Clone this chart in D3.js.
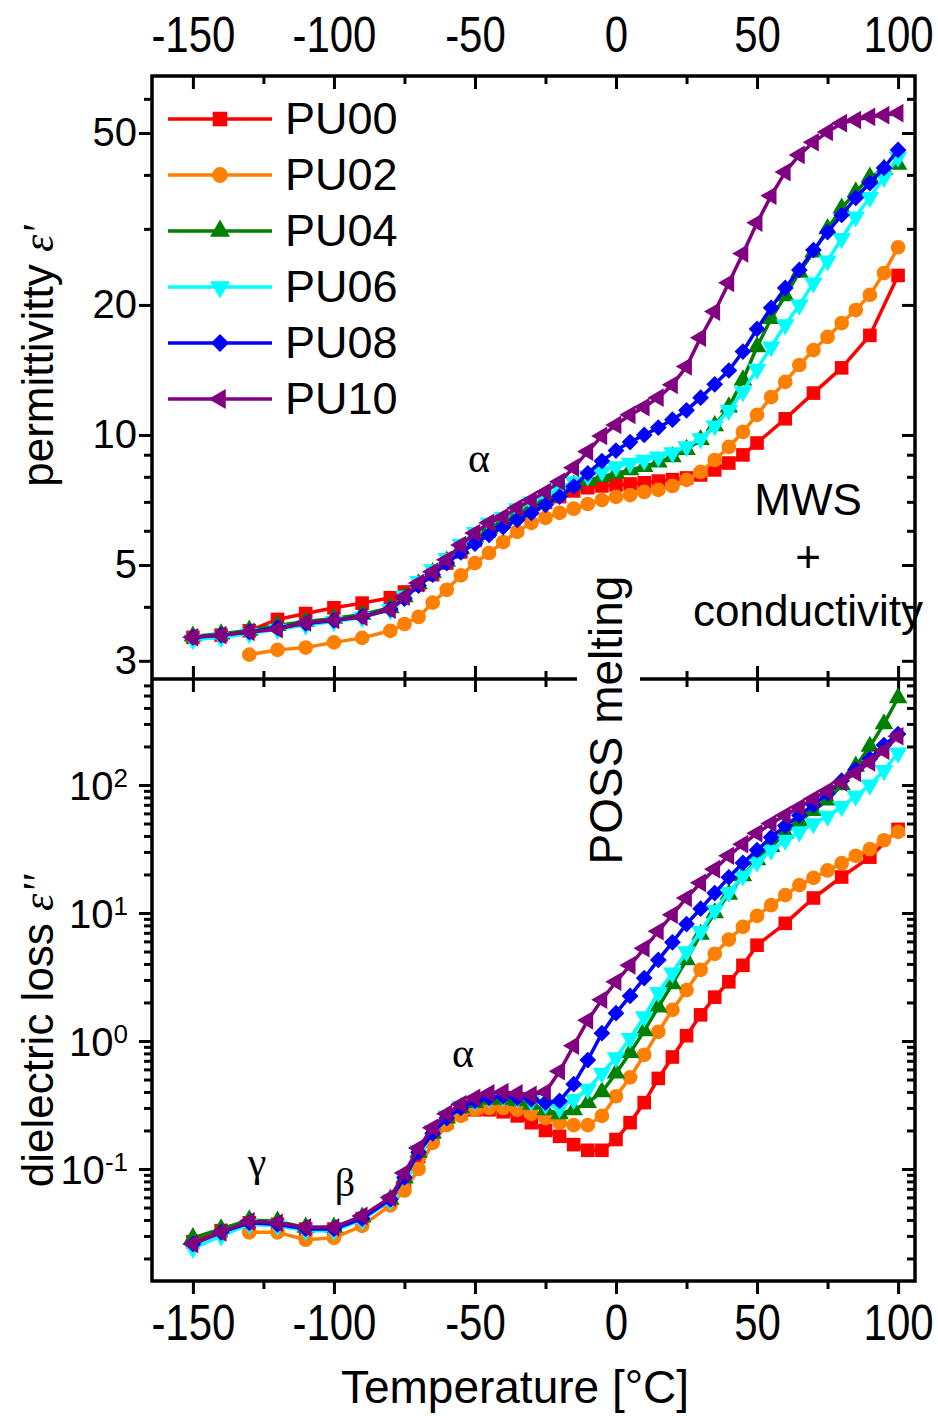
<!DOCTYPE html>
<html>
<head>
<meta charset="utf-8">
<script src="https://cdn.jsdelivr.net/npm/d3@7"></script>
<style>
  body { margin: 0; background: #ffffff; }
  svg text { font-family: "Liberation Sans", Arial, sans-serif; fill: #000; }
</style>
</head>
<body>
<svg id="chart" width="938" height="1416"></svg>
<script>
// ---- temperature grids (°C) ----
const tempStd = [-150,-140,-130,-120,-110,-100,-90,-80,-75,-70,-65,-60,-55,-50,-45,-40,-35,-30,-25,-20,-15,-10,-5,0,5,10,15,20,25,30,35,40,45,50,55,60,65,70,75,80,85,90,95,100];
const tempPU00 = [-150,-140,-130,-120,-110,-100,-90,-80,-75,-70,-65,-60,-55,-50,-45,-40,-35,-30,-25,-20,-15,-10,-5,0,5,10,15,20,25,30,35,40,45,50,60,70,80,90,100];
const tempPU02 = [-130,-120,-110,-100,-90,-80,-75,-70,-65,-60,-55,-50,-45,-40,-35,-30,-25,-20,-15,-10,-5,0,5,10,15,20,25,30,35,40,45,50,55,60,65,70,75,80,85,90,95,100];

// ---- permittivity ε' ----
const permPU00 = [3.40,3.44,3.52,3.74,3.86,3.98,4.08,4.20,4.33,4.50,4.75,5.05,5.36,5.70,6.00,6.27,6.53,6.76,6.98,7.20,7.42,7.55,7.62,7.66,7.70,7.75,7.82,7.88,7.95,8.08,8.30,8.61,8.99,9.58,10.9,12.5,14.3,17.0,23.4];
const permPU02 = [3.10,3.18,3.22,3.31,3.39,3.52,3.65,3.79,4.09,4.38,4.73,5.05,5.33,5.65,5.97,6.26,6.43,6.60,6.75,6.92,7.07,7.19,7.26,7.38,7.46,7.62,7.87,8.21,8.75,9.38,10.16,11.13,12.24,13.27,14.52,15.72,16.86,18.16,19.46,21.10,23.7,27.2];
const permPU04 = [3.42,3.46,3.53,3.62,3.70,3.76,3.84,3.98,4.22,4.52,4.80,5.10,5.45,5.80,6.08,6.33,6.58,6.85,7.10,7.40,7.65,7.85,8.00,8.15,8.30,8.45,8.65,8.90,9.25,9.75,10.5,11.6,13.4,16.0,18.6,21.0,23.8,26.5,30.0,33.5,36.5,39.5,41.2,42.3];
const permPU06 = [3.36,3.40,3.47,3.55,3.63,3.70,3.78,3.94,4.24,4.58,4.88,5.18,5.58,5.95,6.25,6.45,6.75,7.00,7.25,7.50,7.80,8.05,8.25,8.45,8.60,8.75,8.90,9.10,9.40,9.80,10.5,11.4,12.6,14.2,16.0,18.0,20.0,22.5,25.3,28.5,32.0,35.5,39.5,44.0];
const permPU08 = [3.40,3.44,3.50,3.58,3.66,3.72,3.80,3.95,4.18,4.48,4.75,5.05,5.35,5.60,5.87,6.12,6.36,6.60,6.89,7.20,7.60,8.15,8.70,9.20,9.63,10.0,10.4,10.85,11.4,12.2,13.1,14.1,15.6,17.6,19.7,21.9,24.1,26.8,29.5,32.3,35.4,38.3,41.5,45.7];
const permPU10 = [3.40,3.44,3.50,3.55,3.68,3.73,3.79,3.94,4.22,4.54,4.82,5.14,5.56,5.93,6.26,6.46,6.78,7.07,7.38,7.79,8.40,9.15,9.95,10.55,11.13,11.6,12.2,13.06,14.4,16.8,19.3,22.5,26.3,31.0,35.8,40.6,44.5,47.6,50.3,52.7,53.6,54.5,55.0,55.6];

// ---- dielectric loss ε'' ----
const lossPU00 = [0.027,0.033,0.038,0.037,0.034,0.034,0.041,0.056,0.080,0.125,0.18,0.23,0.27,0.29,0.29,0.28,0.26,0.23,0.20,0.18,0.155,0.14,0.14,0.17,0.23,0.33,0.51,0.75,1.1,1.6,2.2,2.9,3.9,5.6,8.3,13.1,19.1,27.3,45];
const lossPU02 = [0.032,0.032,0.028,0.029,0.036,0.052,0.068,0.10,0.16,0.22,0.26,0.29,0.30,0.30,0.29,0.27,0.25,0.23,0.22,0.22,0.26,0.37,0.52,0.78,1.18,1.75,2.5,3.6,4.8,6.2,7.8,9.5,11.5,13.8,16.5,18.8,21.5,24.5,28,31.5,37,43];
const lossPU04 = [0.029,0.034,0.040,0.039,0.035,0.035,0.042,0.058,0.085,0.135,0.19,0.25,0.30,0.33,0.35,0.35,0.34,0.32,0.29,0.27,0.29,0.33,0.40,0.56,0.81,1.2,1.84,2.8,4.3,6.8,10,14,19.5,26,33,42,52,63,76,100,140,200,300,480];
const lossPU06 = [0.024,0.030,0.037,0.036,0.033,0.033,0.040,0.057,0.088,0.14,0.20,0.26,0.31,0.34,0.36,0.37,0.36,0.34,0.32,0.30,0.35,0.42,0.56,0.74,1.05,1.55,2.4,3.4,5.0,7.2,10.5,14.5,19.5,25,31,37,43,50,57,68,82,100,130,178];
const lossPU08 = [0.026,0.032,0.038,0.037,0.034,0.034,0.041,0.058,0.086,0.135,0.19,0.25,0.30,0.34,0.36,0.37,0.36,0.35,0.33,0.34,0.46,0.71,1.15,1.65,2.25,3.1,4.3,5.9,8.2,10.8,14.3,19,24.6,31,39,48,58,70,86,108,132,160,205,250];
const lossPU10 = [0.026,0.032,0.039,0.038,0.035,0.035,0.043,0.060,0.093,0.146,0.21,0.27,0.32,0.36,0.39,0.40,0.39,0.38,0.40,0.58,0.92,1.45,2.1,2.9,3.9,5.3,7.2,9.7,13.1,17.2,22,28,34.5,42,50,58,67,78,90,105,124,150,185,240];

// ---- series meta ----
const seriesNames  = ["PU00","PU02","PU04","PU06","PU08","PU10"];
const seriesColors = ["#ff0000","#ff8000","#008000","#00ffff","#0000ff","#800080"];
const seriesShapes = ["square","circle","triangleUp","triangleDown","diamond","triangleLeft"];
const seriesTemps  = [tempPU00,tempPU02,tempStd,tempStd,tempStd,tempStd];
const seriesPerm   = [permPU00,permPU02,permPU04,permPU06,permPU08,permPU10];
const seriesLoss   = [lossPU00,lossPU02,lossPU04,lossPU06,lossPU08,lossPU10];

// ---- axis ticks ----
const tempTicks      = [-150,-100,-50,0,50,100];
const tempMinorTicks = [-125,-75,-25,25,75];
const permTickLabels = [3,5,10,20,50];
const permMinorTicks = [4,6,7,8,9,30,40,60];
const lossTickExponents = [-1,0,1,2];

// ---- layout ----
const L = 152, R = 915, T = 76, M = 679, B = 1281;
const svg = d3.select("#chart");

const x = d3.scaleLinear().domain([-164.5, 106]).range([L, R]);
const yPerm = d3.scaleLog().domain([Math.pow(10,0.435), Math.pow(10,1.831)]).range([M, T]);
const yLoss = d3.scaleLog().domain([Math.pow(10,-1.875), Math.pow(10,2.828)]).range([B, M]);

const lossMajor = lossTickExponents.map(e => Math.pow(10, e));
const lossMinor = [];
for (let e = -2; e <= 2; e++) for (let k = 2; k <= 9; k++) {
  const v = k * Math.pow(10, e);
  if (v > yLoss.domain()[0] && v < yLoss.domain()[1]) lossMinor.push(v);
}

const FS_Y = 40;          // value-axis label size
const FS_X = 50;          // temperature label size (narrowed)
const X_NARROW = 0.84;
const MAJ = 13, MIN = 8;
const plain = d => String(d);

function styleAxis(g) {
  g.select(".domain").remove();
  g.selectAll(".tick line").attr("stroke", "#000").attr("stroke-width", 3);
  g.selectAll(".tick text").attr("font-size", FS_Y).attr("fill", "#000")
    .style("font-family", '"Liberation Sans", Arial, sans-serif');
}
function narrowLabels(g) {
  g.selectAll(".tick text").attr("font-size", FS_X).attr("transform", `scale(${X_NARROW},1)`);
}

const axes = svg.append("g");

// bottom temperature axis (outward ticks, labelled)
axes.append("g").attr("transform", `translate(0,${B})`)
  .call(d3.axisBottom(x).tickValues(tempTicks).tickSize(MAJ).tickPadding(11).tickFormat(plain))
  .call(styleAxis).call(narrowLabels);
axes.append("g").attr("transform", `translate(0,${B})`)
  .call(d3.axisBottom(x).tickValues(tempMinorTicks).tickSize(MIN).tickFormat(""))
  .call(styleAxis);

// top temperature axis (inward ticks, labels above)
axes.append("g").attr("transform", `translate(0,${T})`)
  .call(d3.axisTop(x).tickValues(tempTicks).tickSizeInner(-MAJ).tickSizeOuter(0).tickPadding(24).tickFormat(plain))
  .call(styleAxis).call(narrowLabels);
axes.append("g").attr("transform", `translate(0,${T})`)
  .call(d3.axisTop(x).tickValues(tempMinorTicks).tickSizeInner(-MIN).tickSizeOuter(0).tickFormat(""))
  .call(styleAxis);

// shared boundary between panels: ticks pointing into both panels
[[tempTicks, MAJ], [tempMinorTicks, MIN]].forEach(([vals, len]) => {
  axes.append("g").attr("transform", `translate(0,${M})`)
    .call(d3.axisTop(x).tickValues(vals).tickSize(len).tickFormat(""))
    .call(styleAxis);
  axes.append("g").attr("transform", `translate(0,${M})`)
    .call(d3.axisBottom(x).tickValues(vals).tickSize(len).tickFormat(""))
    .call(styleAxis);
});

// permittivity axes
axes.append("g").attr("transform", `translate(${L},0)`)
  .call(d3.axisLeft(yPerm).tickValues(permTickLabels).tickSize(MAJ).tickPadding(2).tickFormat(plain))
  .call(styleAxis);
axes.append("g").attr("transform", `translate(${L},0)`)
  .call(d3.axisLeft(yPerm).tickValues(permMinorTicks).tickSize(MIN).tickFormat(""))
  .call(styleAxis);
axes.append("g").attr("transform", `translate(${R},0)`)
  .call(d3.axisLeft(yPerm).tickValues(permTickLabels).tickSize(MAJ).tickFormat(""))
  .call(styleAxis);
axes.append("g").attr("transform", `translate(${R},0)`)
  .call(d3.axisLeft(yPerm).tickValues(permMinorTicks).tickSize(MIN).tickFormat(""))
  .call(styleAxis);

// loss axes
const lossLeft = axes.append("g").attr("transform", `translate(${L},0)`)
  .call(d3.axisLeft(yLoss).tickValues(lossMajor).tickSize(MAJ).tickPadding(11).tickFormat(d => String(Math.round(Math.log10(d)))))
  .call(styleAxis);
lossLeft.selectAll(".tick text").each(function() {
  const t = d3.select(this);
  const ex = t.text();
  t.text(null).attr("dy", "0.36em");
  t.append("tspan").text("10");
  t.append("tspan").attr("dy", "-0.5em").attr("font-size", 26).text(ex);
});
axes.append("g").attr("transform", `translate(${L},0)`)
  .call(d3.axisLeft(yLoss).tickValues(lossMinor).tickSize(MIN).tickFormat(""))
  .call(styleAxis);
axes.append("g").attr("transform", `translate(${R},0)`)
  .call(d3.axisLeft(yLoss).tickValues(lossMajor).tickSize(MAJ).tickFormat(""))
  .call(styleAxis);
axes.append("g").attr("transform", `translate(${R},0)`)
  .call(d3.axisLeft(yLoss).tickValues(lossMinor).tickSize(MIN).tickFormat(""))
  .call(styleAxis);

// frame and panel divider
svg.append("rect").attr("x", L).attr("y", T).attr("width", R - L).attr("height", B - T)
  .attr("fill", "none").attr("stroke", "#000").attr("stroke-width", 3.5);
svg.append("line").attr("x1", L).attr("x2", R).attr("y1", M).attr("y2", M)
  .attr("stroke", "#000").attr("stroke-width", 3.5);

// ---- marker shapes ----
function markerPath(shape, s) {
  switch (shape) {
    case "square":       return d3.symbol(d3.symbolSquare, 185 * s)();
    case "circle":       return d3.symbol(d3.symbolCircle, 170 * s)();
    case "triangleUp":
    case "triangleDown":
    case "triangleLeft": return d3.symbol(d3.symbolTriangle, 150 * s)();
    case "diamond":      return d3.symbol(d3.symbolSquare, 140 * s)();
  }
}
const shapeRot = { square: 0, circle: 0, triangleUp: 0, triangleDown: 180, triangleLeft: -90, diamond: 45 };

// ---- data series ----
function drawPanel(yScale, valueSets, clipId, y0, y1) {
  svg.append("clipPath").attr("id", clipId).append("rect")
    .attr("x", L).attr("y", y0).attr("width", R - L).attr("height", y1 - y0);
  const g = svg.append("g").attr("clip-path", `url(#${clipId})`);
  seriesNames.forEach((name, i) => {
    const pts = seriesTemps[i].map((t, j) => [t, valueSets[i][j]]);
    const line = d3.line().x(d => x(d[0])).y(d => yScale(d[1]));
    g.append("path").datum(pts).attr("d", line)
      .attr("fill", "none").attr("stroke", seriesColors[i]).attr("stroke-width", 3.5)
      .attr("stroke-linejoin", "round");
    g.selectAll(null).data(pts).enter().append("path")
      .attr("d", markerPath(seriesShapes[i], 1))
      .attr("transform", d => `translate(${x(d[0])},${yScale(d[1])}) rotate(${shapeRot[seriesShapes[i]]})`)
      .attr("fill", seriesColors[i]);
  });
}
drawPanel(yPerm, seriesPerm, "clipPerm", T, M);
drawPanel(yLoss, seriesLoss, "clipLoss", M, B);

// ---- legend ----
const legend = svg.append("g");
seriesNames.forEach((name, i) => {
  const ly = 119 + i * 56;
  legend.append("line").attr("x1", 168).attr("x2", 272).attr("y1", ly).attr("y2", ly)
    .attr("stroke", seriesColors[i]).attr("stroke-width", 3.5);
  legend.append("path").attr("d", markerPath(seriesShapes[i], 1.15))
    .attr("transform", `translate(220,${ly}) rotate(${shapeRot[seriesShapes[i]]})`)
    .attr("fill", seriesColors[i]);
  legend.append("text").attr("x", 285).attr("y", ly + 15).attr("font-size", 45).text(name);
});

// ---- axis titles ----
svg.append("text").attr("text-anchor", "middle").attr("font-size", 46)
  .attr("x", 515).attr("y", 1403).text("Temperature [°C]");

const t1 = svg.append("text").attr("text-anchor", "middle").attr("font-size", 44)
  .attr("transform", "translate(53,356) rotate(-90)");
t1.append("tspan").text("permittivitty ");
t1.append("tspan").style("font-family", '"Liberation Serif", serif').style("font-style", "italic").text("ε'");

const t2 = svg.append("text").attr("text-anchor", "middle").attr("font-size", 44)
  .attr("transform", "translate(53,1031) rotate(-90)");
t2.append("tspan").text("dielectric loss ");
t2.append("tspan").style("font-family", '"Liberation Serif", serif').style("font-style", "italic").text("ε''");

// ---- annotations ----
svg.append("rect").attr("x", 577).attr("y", 565).attr("width", 63).attr("height", 310).attr("fill", "#fff");
svg.append("text").attr("text-anchor", "middle").attr("font-size", 46)
  .attr("transform", "translate(622,720) rotate(-90)").text("POSS melting");

const serif = '"Liberation Serif", "DejaVu Serif", serif';
[["α", 479, 472, 42], ["α", 463, 1067, 42], ["γ", 257, 1176, 42], ["β", 345, 1196, 40]].forEach(([s, ax, ay, fs]) => {
  svg.append("text").attr("x", ax).attr("y", ay).attr("text-anchor", "middle")
    .attr("font-size", fs).style("font-family", serif).text(s);
});
[["MWS", 515], ["+", 572], ["conductivity", 626]].forEach(([s, ay]) => {
  svg.append("text").attr("x", 808).attr("y", ay).attr("text-anchor", "middle").attr("font-size", 44).text(s);
});
</script>
</body>
</html>
